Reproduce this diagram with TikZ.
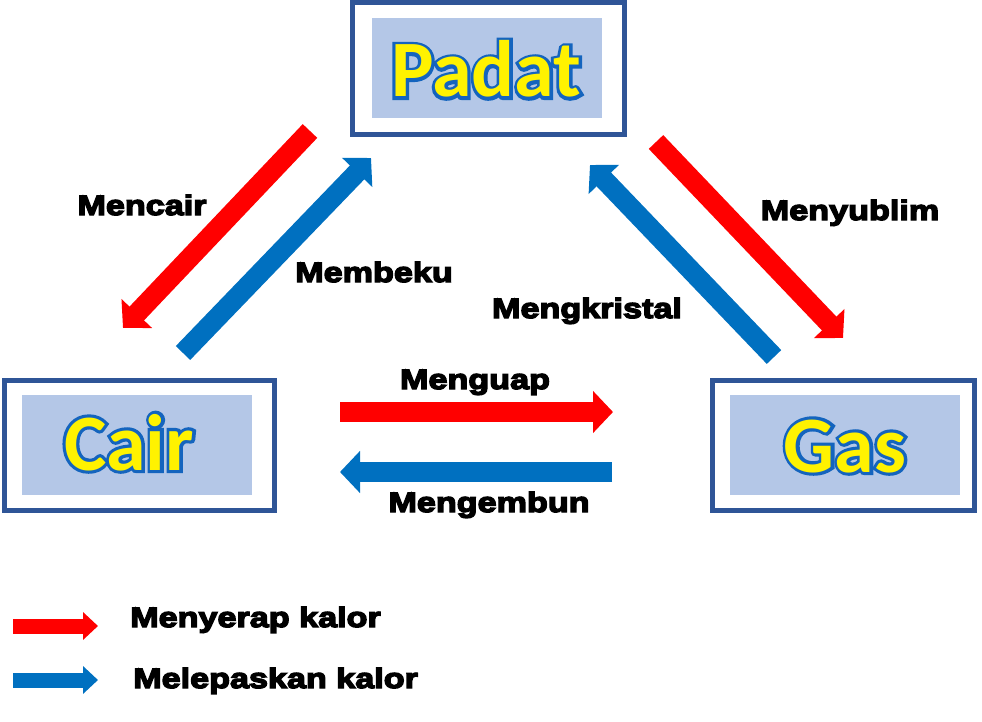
\documentclass[tikz,border=0pt]{standalone}
\usepackage{fontspec}
\usetikzlibrary{arrows.meta}
\newfontfamily\statefont{Carlito Bold}
\newfontfamily\rimfont[FakeBold=8]{Carlito Bold}
\newfontfamily\lblfont[FakeStretch=1.22,FakeBold=5]{Liberation Sans Bold}
\definecolor{boxblue}{RGB}{47,85,151}
\definecolor{fillblue}{RGB}{180,199,231}
\definecolor{glowblue}{RGB}{20,100,190}
\definecolor{heatred}{RGB}{255,0,0}
\definecolor{coolblue}{RGB}{0,112,192}
\tikzset{
  statebox/.style={draw=boxblue,line width=5pt,fill=white,rectangle,inner sep=0pt},
  innerbox/.style={fill=fillblue,rectangle,inner sep=0pt,minimum width=230pt,minimum height=100pt},
  statetext/.style={anchor=base,inner sep=0pt,text=yellow,font=\statefont\fontsize{80}{84}\selectfont},
  staterim/.style={anchor=base,inner sep=0pt,text=glowblue,font=\rimfont\fontsize{80}{84}\selectfont},
  lbl/.style={anchor=base,inner sep=0pt,font=\lblfont\fontsize{28}{30}\selectfont},
  heat/.style={draw=heatred,line width=20pt,-{Triangle[length=20pt,width=41pt]}},
  cool/.style={draw=coolblue,line width=20pt,-{Triangle[length=20pt,width=41pt]}},
  keyarrow/.style={line width=15pt,-{Triangle[length=15pt,width=27pt]}}
}
\begin{document}
\begin{tikzpicture}[x=1pt,y=-1pt]
\useasboundingbox (0,0) rectangle (982,722);

  % boxes
  \node[statebox,minimum width=272pt,minimum height=132pt] (padatbox) at (488.5,68.5) {};
  \node[statebox,minimum width=270pt,minimum height=130pt] (cairbox) at (139.5,445.5) {};
  \node[statebox,minimum width=262pt,minimum height=130pt] (gasbox) at (843.5,445.5) {};
  \node[innerbox] (padatin) at (487,68) {};
  \node[innerbox] (cairin) at (137,445) {};
  \node[innerbox] (gasin) at (845,445) {};

  % state names, blue rim below yellow
  \node[staterim] (padatrim) at (486,97) {Padat};
  \node[staterim] (cairrim) at (129,470) {Cair};
  \node[staterim] (gasrim) at (845,472) {Gas};
  \node[statetext] (padat) at (486,97) {Padat};
  \node[statetext] (cair) at (129,470) {Cair};
  \node[statetext] (gas) at (845,472) {Gas};

  % arrow ends
  \coordinate (mencairS) at (310,131);
  \coordinate (mencairE) at (123,328);
  \coordinate (membekuS) at (183,353);
  \coordinate (membekuE) at (371,158);
  \coordinate (menyublimS) at (656,142);
  \coordinate (menyublimE) at (843,338);
  \coordinate (mengkristalS) at (774,357);
  \coordinate (mengkristalE) at (590,165);
  \coordinate (menguapS) at (340,412);
  \coordinate (menguapE) at (613,412);
  \coordinate (mengembunS) at (612,472);
  \coordinate (mengembunE) at (340,472);

  \draw[heat] (mencairS) -- (mencairE);
  \draw[cool] (membekuS) -- (membekuE);
  \draw[heat] (menyublimS) -- (menyublimE);
  \draw[cool] (mengkristalS) -- (mengkristalE);
  \draw[heat] (menguapS) -- (menguapE);
  \draw[cool] (mengembunS) -- (mengembunE);

  % labels
  \node[lbl] (mencair) at (142,215) {Mencair};
  \node[lbl] (membeku) at (374,282) {Membeku};
  \node[lbl] (mengkristal) at (587,318) {Mengkristal};
  \node[lbl] (menyublim) at (850,220) {Menyublim};
  \node[lbl] (menguap) at (475,389) {Menguap};
  \node[lbl] (mengembun) at (489,512) {Mengembun};

  % legend
  \coordinate (keyredS) at (13,626);
  \coordinate (keyredE) at (98,626);
  \coordinate (keyblueS) at (13,680);
  \coordinate (keyblueE) at (98,680);
  \draw[keyarrow,draw=heatred] (keyredS) -- (keyredE);
  \draw[keyarrow,draw=coolblue] (keyblueS) -- (keyblueE);
  \node[lbl,anchor=base west] (serap) at (130,627) {Menyerap kalor};
  \node[lbl,anchor=base west] (lepas) at (133,688) {Melepaskan kalor};
\end{tikzpicture}
\end{document}
